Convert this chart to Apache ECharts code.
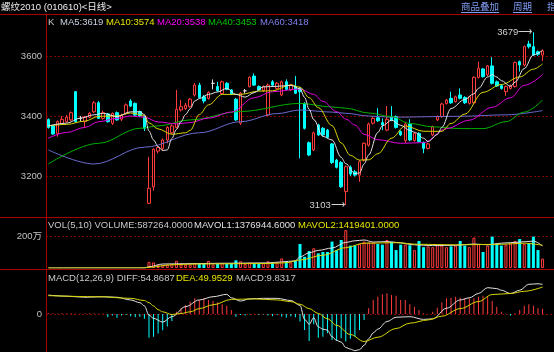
<!DOCTYPE html>
<html><head><meta charset="utf-8">
<script src="https://cdn.jsdelivr.net/npm/echarts@6/dist/echarts.min.js"></script>
<style>html,body{margin:0;padding:0;background:#000;overflow:hidden}#chart{width:554px;height:352px}</style>
</head><body><div id="chart"></div>
<script>
// ---- candles ----
const opens = [3388,3367,3342,3375,3381,3387,3481,3392,3381,3396,
3414,3444,3392,3407,3376,3411,3389,3409,3450,3442,
3415,3398,3109,3164,3283,3292,3320,3344,3362,3420,
3425,3431,3470,3503,3464,3458,3509,3498,3475,3509,
3487,3456,3376,3484,3498,3533,3498,3484,3403,3514,
3492,3470,3514,3487,3498,3492,3442,3311,3287,3370,
3359,3353,3307,3253,3245,3148,3229,3214,3203,3253,
3303,3376,3394,3378,3353,3398,3398,3348,3318,3373,
3318,3342,3311,3292,3337,3387,3398,3442,3459,3448,
3470,3462,3442,3444,3529,3557,3537,3567,3514,3501,
3481,3492,3498,3581,3570,3640,3631,3614,3603];
const closes = [3362,3340,3381,3389,3396,3411,3381,3392,3396,3409,
3444,3392,3411,3381,3409,3387,3403,3437,3433,3403,
3400,3359,3159,3289,3295,3320,3362,3367,3422,3431,
3436,3456,3503,3462,3450,3478,3509,3484,3514,3489,
3473,3387,3476,3484,3529,3503,3487,3498,3503,3503,
3509,3514,3489,3503,3476,3481,3359,3270,3344,3337,
3337,3329,3245,3229,3164,3231,3207,3203,3248,3309,
3373,3392,3384,3370,3389,3387,3362,3337,3373,3320,
3342,3315,3292,3307,3364,3398,3440,3453,3444,3464,
3459,3444,3464,3529,3559,3531,3567,3509,3500,3492,
3498,3500,3578,3570,3631,3631,3603,3606,3617];
const lows = [3358,3338,3331,3372,3378,3383,3378,3380,3360,3393,
3410,3390,3388,3378,3370,3384,3383,3405,3430,3400,
3396,3350,3106,3151,3275,3285,3309,3340,3358,3415,
3420,3428,3465,3458,3442,3455,3489,3481,3470,3486,
3470,3384,3370,3475,3495,3500,3484,3480,3400,3500,
3488,3466,3486,3484,3473,3259,3355,3266,3283,3333,
3333,3325,3240,3225,3160,3103,3200,3198,3181,3248,
3298,3372,3380,3353,3349,3383,3358,3333,3310,3316,
3314,3312,3276,3288,3333,3383,3394,3438,3440,3445,
3455,3440,3438,3440,3525,3528,3532,3505,3497,3488,
3467,3488,3495,3548,3565,3625,3600,3600,3583];
const highs = [3392,3370,3385,3400,3403,3415,3483,3400,3400,3413,
3450,3450,3418,3410,3412,3415,3408,3442,3456,3445,
3418,3400,3264,3292,3300,3325,3366,3372,3487,3453,
3444,3460,3510,3511,3470,3482,3522,3514,3518,3513,
3490,3460,3480,3490,3532,3542,3502,3502,3508,3520,
3513,3518,3522,3507,3533,3496,3446,3315,3348,3374,
3363,3357,3310,3257,3250,3235,3235,3220,3252,3312,
3378,3398,3426,3392,3433,3433,3402,3352,3380,3389,
3346,3346,3315,3311,3368,3402,3444,3457,3481,3468,
3492,3466,3468,3532,3581,3560,3570,3596,3518,3505,
3502,3505,3582,3585,3635,3651,3679,3618,3622];
const volumes = [0,0,0,0,0,0,0,0,0,0,
0,0,0,0,0,0,0,0,0,0,
0,30000,380000,350000,200000,200000,220000,250000,450000,220000,
200000,220000,300000,250000,250000,440000,220000,250000,300000,250000,
300000,480000,420000,250000,350000,300000,280000,300000,420000,300000,
350000,600000,400000,350000,450000,1500000,700000,1060000,1230000,920000,
1000000,1000000,1650000,1120000,1750000,2370000,1400000,1400000,1500000,1650000,
1600000,1600000,1500000,1460000,1750000,1650000,1120000,1460000,1460000,1420000,
1120000,1690000,1300000,1350000,1300000,1450000,1400000,1300000,1350000,1400000,
1690000,1400000,1300000,1900000,1500000,1000000,1400000,1960000,1500000,1400000,
1450000,1550000,1690000,1810000,1500000,1550000,1960000,1120000,587264];
// ---- moving averages, read at sampled days [day index, value] ----
const ma5 = [[0,3367],[4,3376],[7,3393],[10,3404],[12,3409],[15,3398],[18,3414],[20,3414],[21,3405],[22,3350],[23,3320],[24,3298],[25,3285],[26,3287],[27,3325],[28,3355],[29,3381],[30,3405],[31,3424],[32,3450],[33,3458],[35,3472],[37,3480],[39,3492],[41,3472],[43,3463],[45,3478],[47,3497],[50,3499],[53,3502],[55,3491],[56,3462],[57,3422],[58,3388],[60,3332],[62,3320],[64,3262],[65,3241],[67,3208],[68,3210],[69,3240],[70,3270],[72,3345],[73,3367],[75,3386],[77,3369],[79,3352],[80,3346],[82,3326],[83,3315],[85,3338],[86,3362],[88,3425],[91,3455],[93,3474],[94,3492],[96,3530],[97,3538],[98,3530],[99,3518],[101,3499],[102,3513],[104,3558],[106,3604],[108,3619]];
const ma10 = [[0,3367],[4,3372],[8,3383],[11,3399],[15,3400],[18,3410],[21,3402],[22,3377],[24,3357],[27,3339],[30,3344],[31,3352],[33,3405],[35,3437],[38,3472],[42,3472],[46,3483],[49,3484],[53,3504],[55,3496],[57,3461],[59,3428],[62,3368],[64,3310],[66,3269],[68,3253],[70,3254],[72,3274],[75,3326],[78,3367],[82,3349],[86,3349],[88,3375],[91,3406],[95,3479],[99,3505],[103,3530],[106,3556],[108,3574]];
const ma20 = [[0,3326],[4,3345],[8,3362],[11,3381],[15,3392],[18,3400],[21,3396],[24,3380],[28,3374],[31,3378],[35,3393],[40,3413],[45,3461],[49,3481],[55,3490],[58,3472],[60,3449],[63,3415],[65,3390],[67,3370],[69,3339],[72,3321],[77,3309],[82,3311],[87,3358],[92,3386],[97,3429],[101,3461],[104,3502],[108,3538]];
const ma40 = [[0,3240],[11,3309],[20,3359],[24,3367],[31,3387],[42,3415],[55,3442],[62,3430],[65,3426],[70,3410],[75,3398],[79,3375],[84,3364],[90,3358],[95,3358],[100,3381],[104,3413],[108,3453]];
const ma60 = [[0,3287],[10,3240],[21,3296],[33,3344],[42,3381],[50,3408],[55,3420],[62,3413],[65,3409],[70,3400],[75,3396],[90,3399],[100,3404],[108,3418]];
const mavol1 = [[0,0],[21,6000],[22,80000],[25,250000],[30,270000],[40,300000],[48,320000],[51,380000],[54,450000],[55,700000],[57,950000],[59,1100000],[62,1250000],[65,1600000],[67,1700000],[69,1750000],[71,1620000],[74,1650000],[76,1600000],[80,1450000],[84,1400000],[89,1420000],[93,1500000],[96,1450000],[99,1550000],[103,1620000],[106,1680000],[108,1376944.6]];
const mavol2 = [[0,0],[21,3000],[22,45000],[27,200000],[32,250000],[48,280000],[52,330000],[55,500000],[60,800000],[65,1270000],[69,1550000],[76,1580000],[81,1480000],[89,1450000],[99,1480000],[104,1550000],[108,1419401]];
// ---- MACD ----
const macdBars = [2,1.5,1,1.5,1,1.5,1,0.5,1,1.5,
1,0.5,1,-6,-3,-7,-3,-2,-4,-6,
-5,-9,-44,-42,-36,-30,-23,-13,4,10.5,
16.7,22.8,29,26,29,26,24,21.6,18,15.4,
7.4,-5,-2,-3,-1,0.6,-2,-1,-3,-4,
-2,-5,-7,-4,-6,-14,-29.6,-50,-19,-43.8,
-42,-35.8,-48,-50,-45,-51,-46,-42,-29.6,-11,
10.5,26,32,36.4,38.3,35,34,26,26,18,
13.6,7.4,1.2,0.6,4.3,11.7,21.6,29,30.2,32,
30.2,29,29,29,32,34,32,24,13.6,4.3,
-0.6,-3,1.2,7.4,15.4,17.9,15.4,10.5,9.8317];
const diffLine = [[0,35],[4,33],[8,31],[12,32],[15,31],[18,26],[20,21],[21,15],[22,-2],[23,-8],[25,-15],[27,-5],[30,13.6],[33,26],[36,32],[39,36.4],[40,30],[42,24],[44,28],[47,29],[50,29],[53,25],[55,16],[56,-10],[57,-19],[58,-7],[59,-24],[60,-28],[61,-30],[62,-42],[63,-49],[64,-52],[65,-62],[66,-65],[67,-68],[68,-66],[69,-58],[70,-46],[71,-35],[72,-28],[74,-14],[76,-6],[79,-5],[82,-10],[84,-9],[87,10.5],[90,26],[92,30],[94,38],[96,48.8],[98,47],[99,44],[101,38],[103,44],[105,55],[107,56],[108,54.8687]];
const deaLine = [[0,34],[11,32],[18,29],[21,25],[22,21],[23,15],[24,8],[25,4],[27,-1],[29,1],[31,4],[33,10],[36,17],[40,27],[45,28],[50,26],[53,23],[55,18],[57,10],[59,1],[61,-9],[63,-21],[66,-38],[69,-51],[72,-43],[76,-27],[79,-17],[83,-11],[86,-4],[90,10],[94,23],[97,36],[101,38],[104,42],[108,49.9529]];
const priceTicks = [3200, 3400, 3600];
const volTicks = [2000000];
const macdTicks = [0];

const FONT = '"Liberation Sans","Noto Sans CJK SC",sans-serif';
const RED = '#ff3c3c', CYAN = '#00ffff', SEP = '#a80000', GRIDC = '#800000', LBL = '#c0c0c0';
const days = opens.map((_, i) => 'D' + (i + 1));
const cats = days.concat(['', '']);
const last = a => a[a.length - 1][1];

const kData = opens.map((o, i) => [o, closes[i], lows[i], highs[i]]);
const hiIdx = highs.indexOf(Math.max(...highs));
const loIdx = lows.indexOf(Math.min(...lows));

const volData = volumes.map((v, i) => ({
  value: v,
  itemStyle: v === 0 ? {color: 'transparent', borderWidth: 0} :
    (closes[i] >= opens[i] ? {color: '#000', borderColor: RED, borderWidth: 1} : {color: CYAN, borderWidth: 0})
}));
const macdData = macdBars.map(v => ({value: v, itemStyle: {color: v >= 0 ? RED : CYAN}}));

function xAx(g) {
  return {type: 'category', gridIndex: g, data: cats, boundaryGap: true,
    axisLine: {show: false}, axisTick: {show: false}, axisLabel: {show: false}, splitLine: {show: false}};
}
function yAx(g, min, max, ticks, fmt) {
  return {type: 'value', gridIndex: g, min, max, scale: true,
    axisLine: {show: true, lineStyle: {color: SEP, width: 1}},
    axisTick: {show: false, customValues: ticks},
    axisLabel: {customValues: ticks, color: LBL, fontSize: 9.5, fontFamily: FONT, margin: 4,
      formatter: fmt || (v => String(v))},
    splitLine: {show: true, lineStyle: {color: GRIDC, type: [2, 2], width: 1}}};
}
function lineS(data, color, xi, w) {
  return {type: 'line', xAxisIndex: xi, yAxisIndex: xi, data, showSymbol: false, symbol: 'none',
    smooth: 0.35, smoothMonotone: 'x', connectNulls: true, lineStyle: {color, width: w || 1}, silent: true, z: 3};
}
function txt(x, y, s, color, size) {
  return {type: 'text', x, y, silent: true, z: 100,
    style: {text: s, fill: color, font: (size || 9.5) + 'px ' + FONT, textVerticalAlign: 'middle', verticalAlign: 'middle'}};
}
function hline(y, x1, x2, color) {
  return {type: 'line', silent: true, z: 90, shape: {x1, y1: y, x2, y2: y}, style: {stroke: color, lineWidth: 1}};
}
const MENU = '#7f9cf5';
const graphics = [
  hline(14.5, 0, 554, SEP), hline(217.5, 0, 554, SEP), hline(269.5, 0, 554, SEP),
  txt(1, 7, '螺纹2010 (010610)<日线>', '#ececec', 9.5),
  txt(461, 7, '商品叠加', MENU, 9.5), hline(12.5, 461, 499, MENU),
  txt(513, 7, '周期', MENU, 9.5), hline(12.5, 513, 532, MENU),
  txt(547, 7, '指标', MENU, 9.5),
  txt(48, 22, 'K', '#c8c8c8'),
  txt(60, 22, 'MA5:' + last(ma5), '#c8d0e0'),
  txt(106, 22, 'MA10:' + last(ma10), '#e6e600'),
  txt(157, 22, 'MA20:' + last(ma20), '#ff00ff'),
  txt(208, 22, 'MA40:' + last(ma40), '#00c800'),
  txt(260, 22, 'MA60:' + last(ma60), '#8080f0'),
  txt(48, 225, 'VOL(5,10) VOLUME:' + volumes[volumes.length - 1].toFixed(4), '#c8c8c8'),
  txt(194, 225, 'MAVOL1:' + last(mavol1).toFixed(4), '#e0e0e0'),
  txt(298, 225, 'MAVOL2:' + last(mavol2).toFixed(4), '#e6e600'),
  txt(48, 278.5, 'MACD(12,26,9) DIFF:' + last(diffLine).toFixed(4), '#c8c8c8'),
  txt(176, 278.5, 'DEA:' + last(deaLine).toFixed(4), '#e6e600'),
  txt(236, 278.5, 'MACD:' + macdBars[macdBars.length - 1].toFixed(4), '#c8c8c8')
];

const chart = echarts.init(document.getElementById('chart'), null, {renderer: 'canvas'});
chart.setOption({
  backgroundColor: '#000',
  animation: false,
  grid: [
    {left: 46, top: 14, width: 510.6, height: 203},
    {left: 46, top: 217, width: 510.6, height: 51},
    {left: 46, top: 270, width: 510.6, height: 82}
  ],
  xAxis: [xAx(0), xAx(1), xAx(2)],
  yAxis: [
    yAx(0, 3063.33, 3740, priceTicks),
    yAx(1, 0, 3187500, volTicks, v => (v / 10000) + '万'),
    yAx(2, -70.4, 81.5, macdTicks)
  ],
  graphic: graphics,
  series: [
    {type: 'candlestick', xAxisIndex: 0, yAxisIndex: 0, data: kData, barWidth: 3,
      itemStyle: {color: '#000', color0: CYAN, borderColor: RED, borderColor0: CYAN, borderColorDoji: '#e0e0e0', borderWidth: 1},
      markPoint: {
        symbol: 'rect', symbolSize: 0.1, itemStyle: {color: 'transparent'}, silent: true,
        label: {show: true, position: 'left', distance: 1, color: '#d0d0d0', fontSize: 9.5, fontFamily: FONT,
          formatter: p => p.value + '⟶'},
        data: [{coord: [days[hiIdx], highs[hiIdx]], value: highs[hiIdx]},
               {coord: [days[loIdx], lows[loIdx]], value: lows[loIdx]}]
      }},
    lineS(ma60, '#6a6ad0', 0),
    lineS(ma40, '#00b000', 0),
    lineS(ma20, '#e000e0', 0),
    lineS(ma10, '#d8d800', 0),
    lineS(ma5, '#e0e0e0', 0),
    {type: 'bar', xAxisIndex: 1, yAxisIndex: 1, data: volData, barWidth: 3, silent: true},
    lineS(mavol1, '#e0e0e0', 1),
    lineS(mavol2, '#d8d800', 1),
    {type: 'bar', xAxisIndex: 2, yAxisIndex: 2, data: macdData, barWidth: 1, silent: true},
    lineS(diffLine, '#e0e0e0', 2),
    lineS(deaLine, '#d8d800', 2)
  ]
});
</script></body></html>
